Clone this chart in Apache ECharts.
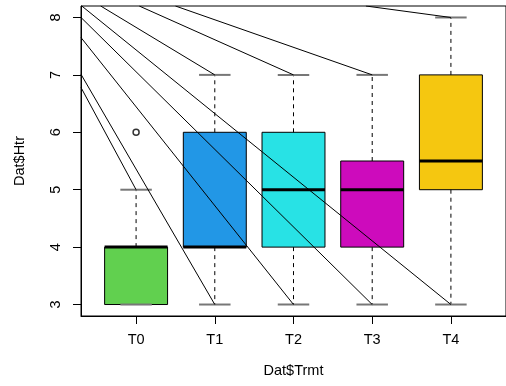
<!DOCTYPE html>
<html>
<head>
<meta charset="utf-8">
<script src="https://cdn.jsdelivr.net/npm/echarts@6/dist/echarts.min.js"></script>
<style>
    html, body { margin: 0; padding: 0; background: #fff; }
    #chart { width: 506px; height: 386px; }
</style>
</head>
<body>
<div id="chart"></div>
<script>
// 处理组与颜色
var trmtNames = ['T0', 'T1', 'T2', 'T3', 'T4']
var boxColors = ['#61D04F', '#2297E6', '#28E2E5', '#CD0BBC', '#F5C710']
// 箱线图五数：下须、下四分位、中位数、上四分位、上须
var whiskerLow = [3, 3, 3, 3, 3]
var quart1 = [3, 4, 4, 4, 5]
var medians = [4, 4, 5, 5, 5.5]
var quart3 = [4, 6, 6, 5.5, 7]
var whiskerHigh = [5, 7, 7, 7, 8]
// 离群点 [组序号, 值]
var outliers = [[1, 6]]
var yTicks = [3, 4, 5, 6, 7, 8]
var xTicks = [1, 2, 3, 4, 5]
// 斜线：起点（在边框处）-> 须端
var segStarts = [[0.3, 6.78], [0.3, 7.01], [0.3, 7.65], [0.3, 8.0], [0.31, 8.2], [0.55, 8.2], [1.04, 8.2], [1.5, 8.2], [3.92, 8.2]]
var segEnds = [[1, 5], [2, 3], [3, 3], [4, 3], [5, 3], [2, 7], [3, 7], [4, 7], [5, 8]]

var font = "'Liberation Sans', Arial, sans-serif"

var boxData = trmtNames.map(function (name, i) {
    return [i + 1, whiskerLow[i], quart1[i], medians[i], quart3[i], whiskerHigh[i]]
})

// 绘制单个箱子（R 风格）
function renderBox (params, api) {
    var x = api.value(0)
    var lo = api.coord([x, api.value(1)])
    var b1 = api.coord([x, api.value(2)])
    var md = api.coord([x, api.value(3)])
    var b3 = api.coord([x, api.value(4)])
    var hi = api.coord([x, api.value(5)])
    var w = api.size([0.8, 0])[0]
    var cx = lo[0]
    var dash = { stroke: '#000', lineWidth: 1, lineDash: [4, 4] }
    var cap = { stroke: '#777', lineWidth: 2 }
    return {
        type: 'group',
        children: [
            { type: 'rect', shape: { x: cx - w / 2, y: b3[1], width: w, height: b1[1] - b3[1] }, style: { fill: boxColors[params.dataIndex], stroke: '#000', lineWidth: 1 } },
            { type: 'line', shape: { x1: cx, y1: b3[1], x2: cx, y2: hi[1] }, style: dash },
            { type: 'line', shape: { x1: cx, y1: b1[1], x2: cx, y2: lo[1] }, style: dash },
            { type: 'line', shape: { x1: cx - w / 4, y1: hi[1], x2: cx + w / 4, y2: hi[1] }, style: cap },
            { type: 'line', shape: { x1: cx - w / 4, y1: lo[1], x2: cx + w / 4, y2: lo[1] }, style: cap },
            { type: 'line', shape: { x1: cx - w / 2, y1: md[1], x2: cx + w / 2, y2: md[1] }, style: { stroke: '#000', lineWidth: 3 } }
        ]
    }
}

var myChart = echarts.init(document.getElementById('chart'))
var options = {
    animation: false,
    backgroundColor: '#fff',
    grid: {
        left: 81,
        top: 6,
        right: -2,
        bottom: 70,
        show: true,
        borderColor: '#000',
        borderWidth: 1
    },
    xAxis: {
        type: 'value',
        min: 0.3,
        max: 5.7,
        name: 'Dat$Trmt',
        nameLocation: 'middle',
        nameGap: 47,
        nameTextStyle: { color: '#000', fontSize: 14.5, fontFamily: font },
        splitLine: { show: false },
        axisLine: { show: true, lineStyle: { color: '#000', width: 1 } },
        axisTick: { show: true, customValues: xTicks, length: 8, lineStyle: { color: '#000' } },
        axisLabel: {
            customValues: xTicks,
            formatter: function (v) { return trmtNames[Math.round(v) - 1] },
            color: '#000',
            fontSize: 14.5,
            fontFamily: font,
            margin: 16
        }
    },
    yAxis: {
        type: 'value',
        min: 2.8,
        max: 8.2,
        name: 'Dat$Htr',
        nameLocation: 'middle',
        nameGap: 54,
        nameTextStyle: { color: '#000', fontSize: 14.5, fontFamily: font },
        splitLine: { show: false },
        axisLine: { show: true, lineStyle: { color: '#000', width: 1 } },
        axisTick: { show: true, customValues: yTicks, length: 8, lineStyle: { color: '#000' } },
        axisLabel: {
            customValues: yTicks,
            rotate: 90,
            color: '#000',
            fontSize: 14.5,
            fontFamily: font,
            margin: 18
        }
    },
    series: [{
        type: 'custom',
        renderItem: renderBox,
        data: boxData,
        z: 2
    }, {
        type: 'scatter',
        data: outliers,
        symbol: 'circle',
        symbolSize: 6,
        itemStyle: { color: 'rgba(0,0,0,0)', borderColor: '#000', borderWidth: 1.5 },
        z: 3
    }, {
        type: 'lines',
        coordinateSystem: 'cartesian2d',
        data: segStarts.map(function (s, i) {
            return { coords: [s, segEnds[i]] }
        }),
        lineStyle: { color: '#000', width: 1, opacity: 1 },
        z: 4
    }]
}
myChart.setOption(options)
</script>
</body>
</html>
